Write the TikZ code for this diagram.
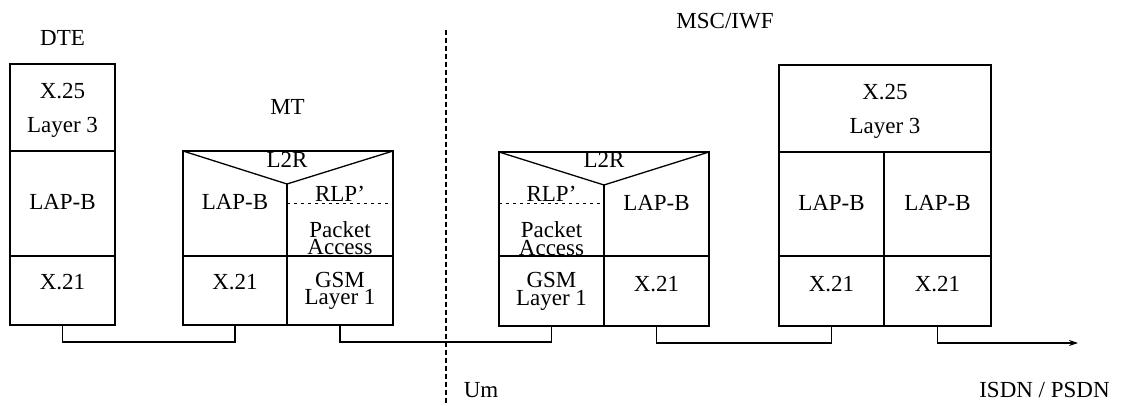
\documentclass[tikz,border=0pt]{standalone}
\usepackage{fontspec}
\setmainfont{Liberation Serif}
\usetikzlibrary{arrows.meta}
\begin{document}
\begin{tikzpicture}[x=1pt,y=-1pt,
  cell/.style={draw, line width=1.3pt, inner sep=0pt, outer sep=0pt},
  lbl/.style={font=\fontsize{23}{25}\selectfont, inner sep=0pt, anchor=base},
  two/.style={font=\fontsize{23}{17.5}\selectfont, inner sep=0pt, align=center, anchor=center},
  wire/.style={line width=1.3pt},
  sep/.style={line width=1.2pt, dash pattern=on 5pt off 3pt},
  rlp/.style={line width=0.9pt, dash pattern=on 3pt off 4pt}]
\useasboundingbox (0,0) rectangle (1122,406);
% ---- DTE ----
\node[cell, minimum width=105pt, minimum height=87pt] (dteL3) at (62.5,107.5) {};
\node[cell, minimum width=105pt, minimum height=105pt] (dteL2) at (62.5,203.5) {};
\node[cell, minimum width=105pt, minimum height=69pt] (dteL1) at (62.5,290.5) {};
\node[lbl] (dteT) at (62.5,46) {DTE};
\node[lbl] (dteA) at (62.5,99) {X.25};
\node[lbl] (dteB) at (62.5,133) {Layer 3};
\node[lbl] (dteC) at (62.5,210) {LAP-B};
\node[lbl] (dteD) at (62.5,290) {X.21};
% ---- MT ----
\node[cell, minimum width=210pt, minimum height=105pt] (mtL2) at (288,203.5) {};
\node[cell, minimum width=104pt, minimum height=69pt] (mtX21) at (235,290.5) {};
\node[cell, minimum width=106pt, minimum height=69pt] (mtGSM) at (340,290.5) {};
\coordinate (mtV) at (287,184);
\draw[wire] (mtL2.north west) -- (mtV) -- (mtL2.north east);
\draw[wire] (mtV) -- (mtX21.north east);
\draw[rlp] (287,203) -- (393,203);
\node[lbl] (mtT) at (287.5,115) {MT};
\node[lbl] (mtA) at (287,168) {L2R};
\node[lbl, fill=white, inner sep=1.5pt] (mtB) at (340,202) {RLP'};
\node[two] (mtC) at (340,238) {Packet\\Access};
\node[lbl] (mtE) at (235,210) {LAP-B};
\node[lbl] (mtF) at (235,290) {X.21};
\node[two] (mtG) at (340,291) {GSM\\Layer 1};
% ---- MSC/IWF left block ----
\node[cell, minimum width=210pt, minimum height=104pt] (bL2) at (604,204) {};
\node[cell, minimum width=105pt, minimum height=70pt] (bGSM) at (551.5,291) {};
\node[cell, minimum width=105pt, minimum height=70pt] (bX21) at (656.5,291) {};
\coordinate (bV) at (604,185);
\draw[wire] (bL2.north west) -- (bV) -- (bL2.north east);
\draw[wire] (bV) -- (bGSM.north east);
\draw[rlp] (499,203) -- (604,203);
\node[lbl] (bA) at (604,168) {L2R};
\node[lbl, fill=white, inner sep=1.5pt] (bB) at (551.5,202) {RLP'};
\node[two] (bC) at (551.5,238.5) {Packet\\Access};
\node[lbl] (bE) at (656.5,211) {LAP-B};
\node[two] (bF) at (551.5,291.5) {GSM\\Layer 1};
\node[lbl] (bH) at (656.5,291) {X.21};
% ---- MSC/IWF right block ----
\node[cell, minimum width=212pt, minimum height=87pt] (cL3) at (885,108.5) {};
\node[cell, minimum width=105pt, minimum height=104pt] (cL2a) at (831.5,204) {};
\node[cell, minimum width=107pt, minimum height=104pt] (cL2b) at (937.5,204) {};
\node[cell, minimum width=105pt, minimum height=70pt] (cX1) at (831.5,291) {};
\node[cell, minimum width=107pt, minimum height=70pt] (cX2) at (937.5,291) {};
\node[lbl] (cT) at (725,29) {MSC/IWF};
\node[lbl] (cA) at (885,100) {X.25};
\node[lbl] (cB) at (885,134) {Layer 3};
\node[lbl] (cC) at (831.5,211) {LAP-B};
\node[lbl] (cD) at (937.5,211) {LAP-B};
\node[lbl] (cE) at (831.5,291) {X.21};
\node[lbl] (cF) at (937.5,291) {X.21};
% ---- Um separator ----
\coordinate (umTop) at (446,30);
\coordinate (umBot) at (446,406);
\draw[sep] (umTop) -- (umBot);
\node[lbl] (umT) at (481,397) {Um};
\node[lbl] (isdn) at (1044.5,397) {ISDN / PSDN};
% ---- connectors ----
\draw[wire] (dteL1.south) -- ++(0,17) -| (mtX21.south);
\draw[wire] (mtGSM.south) -- ++(0,17) -| (bGSM.south);
\draw[wire] (bX21.south) -- ++(0,17) -| (cX1.south);
\coordinate (arrEnd) at (1078,343);
\draw[wire, -{Stealth[length=9pt,width=6pt]}] (cX2.south) |- (arrEnd);
\end{tikzpicture}
\end{document}
